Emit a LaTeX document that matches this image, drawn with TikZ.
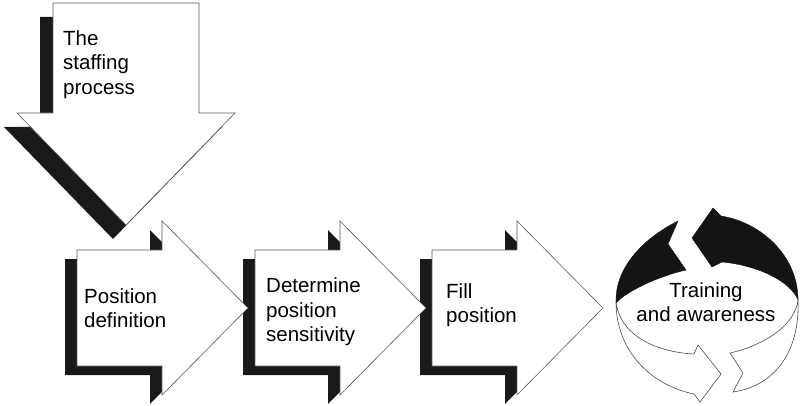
\documentclass[tikz,border=0pt]{standalone}
\usepackage{fontspec}
\setmainfont{Liberation Sans}
\usepackage{tikz}
\tikzset{
  shade/.style={fill=black!90, draw=none},
  blockarrow/.style={fill=white, draw=black!65, line width=0.6pt, line join=miter},
  ringdark/.style={fill=black!92, draw=black!92, line width=0.4pt},
  ringlight/.style={fill=white, draw=black!70, line width=0.6pt},
  steptext/.style={font=\fontsize{20.5}{24.5}\selectfont, align=left, inner sep=0pt},
}
% outlines of the block arrows (origin: body left, centre line)
\newcommand{\procarrow}{(0,-58) -- (85,-58) -- (85,-87) -- (171,0) -- (85,87) -- (85,58) -- (0,58) -- cycle}
\newcommand{\downblock}{(-73,0) -- (73,0) -- (73,110) -- (109,110) -- (0,222) -- (-109,110) -- (-73,110) -- cycle}

\begin{document}
\begin{tikzpicture}[x=1pt, y=-1pt]
    \useasboundingbox (0,0) rectangle (800,406);

    % shadows first
    \path[shade, shift={(113,17)}] \downblock;
    \path[shade, shift={(65,317)}] \procarrow;
    \path[shade, shift={(243,317)}] \procarrow;
    \path[shade, shift={(420,317)}] \procarrow;

    % block arrows
    \path[blockarrow, shift={(126,3)}] \downblock;
    \path[blockarrow, shift={(77,308)}] \procarrow;
    \path[blockarrow, shift={(255,308)}] \procarrow;
    \path[blockarrow, shift={(432,308)}] \procarrow;

    \node[steptext, anchor=west] (staffing) at (63,64.5) {The\\staffing\\process};
    \node[steptext, anchor=west] (posdef) at (84,308) {Position\\definition};
    \node[steptext, anchor=west] (sensitivity) at (266,312) {Determine\\position\\sensitivity};
    \node[steptext, anchor=west] (fillpos) at (446,305) {Fill\\position};

    % ring of two arrows
    \path[ringdark] (616,302) .. controls (615,270) and (640,240) .. (678,221)
        -- (668,244) -- (686,270)
        .. controls (660,276) and (628,290) .. (616,303) -- cycle;
    \path[ringdark] (692,238) -- (713,208) -- (721,216)
        .. controls (760,222) and (798,255) .. (798,300)
        .. controls (790,280) and (755,265) .. (722,262)
        -- (712,267) -- cycle;
    \path[ringlight] (616,302) .. controls (620,335) and (655,352) .. (694,354)
        -- (698,345) -- (721,374) -- (700,402) -- (694,394)
        .. controls (650,385) and (616,350) .. (616,302) -- cycle;
    \path[ringlight] (730,353) .. controls (765,345) and (795,325) .. (798,300)
        .. controls (800,345) and (780,385) .. (733,392)
        -- (743,373) -- cycle;
    \node[steptext, align=center] (training) at (706,302) {Training\\and awareness};
\end{tikzpicture}
\end{document}
